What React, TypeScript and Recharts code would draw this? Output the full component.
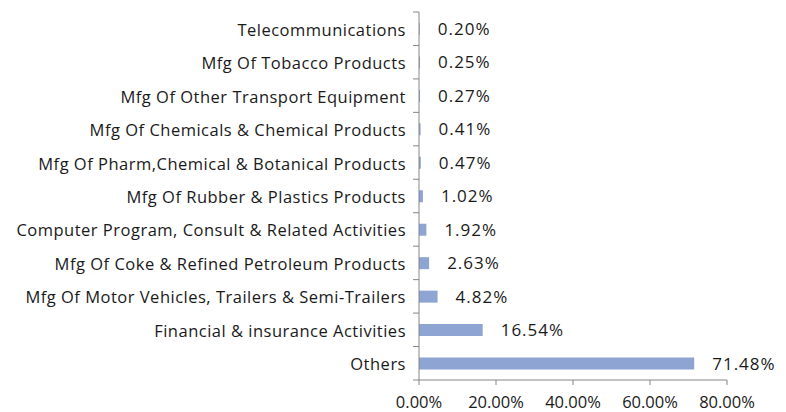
import { BarChart, Bar, XAxis, YAxis, LabelList } from "recharts";

const CATEGORIES = [
  "Telecommunications",
  "Mfg Of Tobacco Products",
  "Mfg Of Other Transport Equipment",
  "Mfg Of Chemicals & Chemical Products",
  "Mfg Of Pharm,Chemical & Botanical Products",
  "Mfg Of Rubber & Plastics Products",
  "Computer Program, Consult & Related Activities",
  "Mfg Of Coke & Refined Petroleum Products",
  "Mfg Of Motor Vehicles, Trailers & Semi-Trailers",
  "Financial & insurance Activities",
  "Others",
];

const SHARES = [0.002, 0.0025, 0.0027, 0.0041, 0.0047, 0.0102, 0.0192, 0.0263, 0.0482, 0.1654, 0.7148];

const X_TICKS = [0, 0.2, 0.4, 0.6, 0.8];

const data = CATEGORIES.map((name, i) => ({ name, value: SHARES[i] }));

const WIDTH = 786;
const HEIGHT = 412;
const TOP = 12;
const X_AXIS_H = 32;
const BAND = (HEIGHT - TOP - X_AXIS_H) / CATEGORIES.length;
const FONT = "'Open Sans', sans-serif";
const AXIS = "#868686";
const TEXT = "#1a1a1a";

const pct = (v: number) => `${(v * 100).toFixed(2)}%`;

function CategoryTick(props: any) {
  const { x, y, payload, index } = props;
  const last = index === CATEGORIES.length - 1;
  return (
    <g>
      <line x1={x + 2} x2={x + 8} y1={y - BAND / 2} y2={y - BAND / 2} stroke={AXIS} />
      {last && <line x1={x + 2} x2={x + 8} y1={y + BAND / 2} y2={y + BAND / 2} stroke={AXIS} />}
      <text
        x={x - 5}
        y={y}
        dy={7}
        textAnchor="end"
        fontSize={16.5}
        letterSpacing={0.5}
        fill={TEXT}
        fontFamily={FONT}
      >
        {payload.value}
      </text>
    </g>
  );
}

export default function App() {
  return (
    <div style={{ position: "absolute", left: 0, top: 0 }}>
      <BarChart
        width={WIDTH}
        height={HEIGHT}
        data={data}
        layout="vertical"
        margin={{ top: TOP, right: 59, left: 0, bottom: 0 }}
        barCategoryGap={0}
      >
        <XAxis
          type="number"
          domain={[0, 0.8]}
          ticks={X_TICKS}
          tickFormatter={pct}
          height={X_AXIS_H}
          stroke={AXIS}
          tickSize={5}
          tickMargin={11}
          tick={{ fill: TEXT, fontSize: 16.5, fontFamily: FONT }}
          interval={0}
        />
        <YAxis
          type="category"
          dataKey="name"
          width={419}
          stroke={AXIS}
          tickLine={false}
          tick={<CategoryTick />}
          interval={0}
        />
        <Bar dataKey="value" fill="#8EA4D2" barSize={12} isAnimationActive={false}>
          <LabelList
            dataKey="value"
            position="right"
            offset={18}
            formatter={(v: any) => pct(Number(v))}
            style={{ fill: TEXT, fontSize: 17, letterSpacing: 1, fontFamily: FONT }}
          />
        </Bar>
      </BarChart>
    </div>
  );
}
